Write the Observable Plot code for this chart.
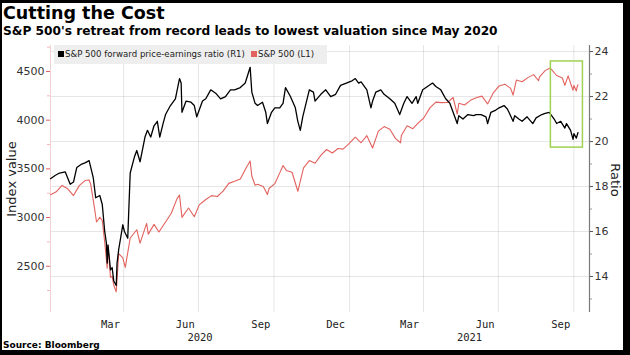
<!DOCTYPE html>
<html><head><meta charset="utf-8">
<script src="https://cdn.jsdelivr.net/npm/d3@7"></script>
<script src="https://cdn.jsdelivr.net/npm/@observablehq/plot@0.6"></script>
<style>
html,body{margin:0;padding:0;background:#000;width:630px;height:355px;overflow:hidden}
#card{position:absolute;left:2px;top:3px;width:621px;height:347px;background:#fff;overflow:hidden}
#title{position:absolute;left:1px;top:0px;font:bold 17.5px "DejaVu Sans";color:#000;white-space:nowrap}
#subtitle{position:absolute;left:1px;top:21px;font:bold 12.2px "DejaVu Sans";color:#000;white-space:nowrap}
#chart{position:absolute;left:0;top:39px}
#legend{position:absolute;left:52px;top:42px;width:273px;height:19px;background:#eeeeee;font:8.6px "DejaVu Sans";color:#222;white-space:nowrap;line-height:19px;padding-left:4px;box-sizing:border-box}
#legend .sw{display:inline-block;width:6px;height:6px;margin-right:1px;vertical-align:0px}
#ylab{position:absolute;left:9px;top:176px;font:13px "DejaVu Sans";color:#222;transform:translate(-50%,-50%) rotate(-90deg);white-space:nowrap}
#rlab{position:absolute;left:613px;top:177px;font:13px "DejaVu Sans";color:#222;transform:translate(-50%,-50%) rotate(90deg);white-space:nowrap}
#source{position:absolute;left:1px;top:337px;font:bold 9px "DejaVu Sans";color:#000;white-space:nowrap}
</style></head>
<body>
<div id="card">
<div id="title">Cutting the Cost</div>
<div id="subtitle">S&amp;P 500's retreat from record leads to lowest valuation since May 2020</div>
<div id="chart"></div>
<div id="legend"></div>
<div id="ylab">Index value</div>
<div id="rlab">Ratio</div>
<div id="source">Source: Bloomberg</div>
</div>
<script>
// ---- data ----
const seriesNames = ["S&P 500 forward price-earnings ratio (R1)", "S&P 500 (L1)"];
const seriesColors = ["#000000", "#e2625e"];

const peRatio = [
["2020-01-03",18.35],["2020-01-09",18.5],["2020-01-14",18.6],["2020-01-21",18.65],["2020-01-27",18.1],
["2020-01-31",18.2],["2020-02-04",18.85],["2020-02-10",19.0],["2020-02-14",19.05],["2020-02-19",19.15],
["2020-02-24",18.4],["2020-02-27",17.5],["2020-03-03",17.6],["2020-03-06",17.2],["2020-03-09",16.0],
["2020-03-11",15.5],["2020-03-12",14.6],["2020-03-13",15.4],["2020-03-16",14.3],["2020-03-18",14.4],
["2020-03-20",13.8],["2020-03-23",13.6],["2020-03-24",14.6],["2020-03-26",15.2],["2020-03-31",16.3],
["2020-04-02",16.0],["2020-04-06",15.7],["2020-04-09",18.6],["2020-04-14",19.3],["2020-04-17",19.6],
["2020-04-21",19.1],["2020-04-27",20.2],["2020-04-30",20.5],["2020-05-04",20.2],["2020-05-08",20.7],
["2020-05-12",20.9],["2020-05-15",20.2],["2020-05-19",20.8],["2020-05-22",21.2],["2020-05-28",21.6],
["2020-06-03",21.9],["2020-06-08",22.8],["2020-06-10",22.6],["2020-06-11",21.3],["2020-06-16",21.8],
["2020-06-22",21.75],["2020-06-26",21.6],["2020-06-29",21.1],["2020-07-06",21.8],["2020-07-10",21.9],
["2020-07-16",22.3],["2020-07-22",22.15],["2020-07-28",21.9],["2020-08-03",22.0],["2020-08-09",22.3],
["2020-08-14",22.3],["2020-08-21",22.4],["2020-08-27",22.6],["2020-09-02",23.3],["2020-09-04",22.2],
["2020-09-08",21.7],["2020-09-11",21.6],["2020-09-17",21.75],["2020-09-21",21.3],["2020-09-23",20.8],
["2020-09-28",21.3],["2020-10-02",21.5],["2020-10-08",21.5],["2020-10-12",21.7],["2020-10-15",22.4],
["2020-10-21",22.0],["2020-10-27",21.5],["2020-10-30",20.9],["2020-11-02",20.5],["2020-11-05",21.1],
["2020-11-09",21.7],["2020-11-13",22.3],["2020-11-18",22.2],["2020-11-20",21.8],["2020-11-27",22.1],
["2020-12-03",22.3],["2020-12-09",22.0],["2020-12-15",22.1],["2020-12-21",22.5],["2020-12-28",22.6],
["2021-01-04",22.7],["2021-01-08",22.8],["2021-01-12",22.6],["2021-01-15",22.65],["2021-01-22",22.3],
["2021-01-27",21.5],["2021-01-29",21.8],["2021-02-02",22.2],["2021-02-08",22.3],["2021-02-12",22.1],
["2021-02-19",21.9],["2021-02-25",21.7],["2021-03-03",21.2],["2021-03-08",21.7],["2021-03-12",22.0],
["2021-03-18",21.7],["2021-03-23",22.0],["2021-03-25",21.7],["2021-03-31",22.3],["2021-04-08",22.5],
["2021-04-12",22.6],["2021-04-16",22.45],["2021-04-22",22.3],["2021-04-28",21.9],["2021-05-03",21.7],
["2021-05-07",21.3],["2021-05-12",20.8],["2021-05-14",21.15],["2021-05-19",21.0],["2021-05-25",21.2],
["2021-06-01",21.15],["2021-06-04",21.2],["2021-06-10",21.2],["2021-06-16",21.1],["2021-06-18",20.8],
["2021-06-22",21.3],["2021-06-28",21.4],["2021-07-02",21.5],["2021-07-08",21.6],["2021-07-12",21.45],
["2021-07-14",21.3],["2021-07-19",20.9],["2021-07-21",21.15],["2021-07-26",21.0],["2021-07-30",20.9],
["2021-08-05",21.1],["2021-08-12",20.8],["2021-08-16",21.05],["2021-08-23",21.2],["2021-08-27",21.25],
["2021-09-01",21.3],["2021-09-03",21.2],["2021-09-07",21.0],["2021-09-10",20.8],["2021-09-15",20.9],
["2021-09-20",20.6],["2021-09-22",20.8],["2021-09-27",20.5],["2021-09-30",20.1],["2021-10-01",20.35],
["2021-10-04",20.15],["2021-10-06",20.4]
];

const spx = [
["2020-01-03",3235],["2020-01-10",3265],["2020-01-17",3330],["2020-01-24",3295],["2020-01-31",3226],
["2020-02-07",3328],["2020-02-14",3380],["2020-02-19",3386],["2020-02-21",3338],["2020-02-25",3128],
["2020-02-28",2954],["2020-03-03",3003],["2020-03-06",2972],["2020-03-09",2747],["2020-03-12",2481],
["2020-03-13",2711],["2020-03-16",2386],["2020-03-18",2398],["2020-03-20",2305],["2020-03-23",2237],
["2020-03-26",2630],["2020-03-31",2585],["2020-04-03",2489],["2020-04-09",2790],["2020-04-17",2875],
["2020-04-21",2737],["2020-04-29",2940],["2020-05-01",2830],["2020-05-08",2930],["2020-05-14",2852],
["2020-05-22",2955],["2020-05-29",3044],["2020-06-05",3194],["2020-06-08",3232],["2020-06-11",3002],
["2020-06-19",3098],["2020-06-26",3009],["2020-07-02",3130],["2020-07-10",3185],["2020-07-17",3225],
["2020-07-24",3216],["2020-07-31",3271],["2020-08-07",3351],["2020-08-14",3373],["2020-08-21",3397],
["2020-08-28",3508],["2020-09-02",3580],["2020-09-04",3427],["2020-09-08",3332],["2020-09-11",3341],
["2020-09-18",3319],["2020-09-23",3237],["2020-09-25",3298],["2020-10-02",3348],["2020-10-09",3477],
["2020-10-12",3534],["2020-10-16",3484],["2020-10-23",3465],["2020-10-30",3270],["2020-11-06",3510],
["2020-11-13",3585],["2020-11-20",3558],["2020-11-27",3638],["2020-12-04",3699],["2020-12-11",3663],
["2020-12-18",3709],["2020-12-24",3703],["2020-12-31",3756],["2021-01-08",3825],["2021-01-15",3768],
["2021-01-22",3841],["2021-01-29",3714],["2021-02-05",3887],["2021-02-12",3934],["2021-02-19",3907],
["2021-02-26",3811],["2021-03-04",3768],["2021-03-05",3842],["2021-03-12",3943],["2021-03-19",3913],
["2021-03-26",3975],["2021-04-01",4020],["2021-04-09",4129],["2021-04-16",4185],["2021-04-23",4180],
["2021-04-30",4181],["2021-05-07",4233],["2021-05-12",4063],["2021-05-14",4174],["2021-05-21",4156],
["2021-05-28",4204],["2021-06-04",4230],["2021-06-11",4247],["2021-06-18",4167],["2021-06-25",4281],
["2021-07-02",4352],["2021-07-09",4370],["2021-07-16",4327],["2021-07-19",4258],["2021-07-23",4412],
["2021-07-30",4395],["2021-08-06",4437],["2021-08-13",4468],["2021-08-19",4405],["2021-08-20",4442],
["2021-08-27",4509],["2021-09-02",4537],["2021-09-10",4459],["2021-09-17",4433],["2021-09-20",4358],
["2021-09-24",4455],["2021-09-28",4353],["2021-09-30",4308],["2021-10-01",4357],["2021-10-04",4300],
["2021-10-05",4345],["2021-10-06",4363]
];

const xDomain = ["2020-01-03", "2021-10-20"];
const leftDomain = [2025, 4767];      // index value (L1)
const rightDomain = [12.4, 24.27];    // ratio (R1)
const leftTicks = [2500, 3000, 3500, 4000, 4500];
const leftMinorTicks = [2250, 2750, 3250, 3750, 4250, 4750];
const rightTicks = [14, 16, 18, 20, 22, 24];
const rightMinorTicks = [13, 15, 17, 19, 21, 23];
const gridDates = ["2020-04-01","2020-07-01","2020-10-01","2021-01-01","2021-04-01","2021-07-01","2021-10-01"];
const monthLabelDates = ["2020-03-16","2020-06-15","2020-09-15","2020-12-15","2021-03-15","2021-06-15","2021-09-15"];
const highlightBox = [{x1: "2021-09-03", x2: "2021-10-12", y1: 19.73, y2: 23.56}];

// ---- build ----
const P = d => new Date(d + "T00:00:00Z");
const toRatio = v => rightDomain[0] + (v - leftDomain[0]) * (rightDomain[1] - rightDomain[0]) / (leftDomain[1] - leftDomain[0]);
const fromRatio = r => leftDomain[0] + (r - rightDomain[0]) * (leftDomain[1] - leftDomain[0]) / (rightDomain[1] - rightDomain[0]);

const peData = peRatio.map(([d, v]) => ({date: P(d), v}));
const spxData = spx.map(([d, v]) => ({date: P(d), v}));
const xd = xDomain.map(P);
const yearCenters = [2020, 2021].map(y => {
  const a = Math.max(+xd[0], Date.UTC(y, 0, 1));
  const b = Math.min(+xd[1], Date.UTC(y + 1, 0, 1));
  return new Date((a + b) / 2);
});

const chart = Plot.plot({
  width: 621, height: 300,
  marginLeft: 48, marginRight: 34, marginTop: 3, marginBottom: 30,
  style: {fontFamily: "DejaVu Sans", fontSize: "11px", background: "transparent", color: "#222"},
  x: {type: "utc", domain: xd},
  y: {domain: rightDomain},
  marks: [
    Plot.gridY(rightTicks, {stroke: "#000", strokeOpacity: 0.1}),
    Plot.gridX(gridDates.map(P), {stroke: "#000", strokeOpacity: 0.1}),
    Plot.ruleX([xd[0]], {stroke: "#f4d2d2"}),
    Plot.ruleX([xd[1]], {stroke: "#7a7a7a", strokeWidth: 1.2}),
    Plot.axisY(leftTicks.map(toRatio), {anchor: "left", tickSize: 4, tickPadding: 2, stroke: "#e2625e", fill: "#333", tickFormat: r => String(Math.round(fromRatio(r))), label: null}),
    Plot.axisY(leftMinorTicks.map(toRatio), {anchor: "left", tickSize: 3, stroke: "#f2b8b6", tickFormat: () => "", label: null}),
    Plot.axisY(rightTicks, {anchor: "right", tickSize: 3, tickPadding: 2, stroke: "#555", fill: "#333", label: null}),
    Plot.axisY(rightMinorTicks, {anchor: "right", tickSize: 2, stroke: "#999", tickFormat: () => "", label: null}),
    Plot.axisX(monthLabelDates.map(P), {tickSize: 0, tickPadding: 8, tickFormat: d3.utcFormat("%b"), fontFamily: "DejaVu Sans Mono", fontSize: 10.5, fill: "#222", label: null}),
    Plot.axisX(yearCenters, {tickSize: 0, tickPadding: 21, tickFormat: d => String(d.getUTCFullYear()), fontFamily: "DejaVu Sans Mono", fontSize: 10.5, fill: "#222", label: null}),
    Plot.line(spxData, {x: "date", y: d => toRatio(d.v), stroke: seriesColors[1], strokeWidth: 1.1}),
    Plot.line(peData, {x: "date", y: "v", stroke: seriesColors[0], strokeWidth: 1.3}),
    Plot.rect(highlightBox, {x1: d => P(d.x1), x2: d => P(d.x2), y1: "y1", y2: "y2", fill: "none", stroke: "#9fd154", strokeWidth: 1.5})
  ]
});
document.getElementById("chart").appendChild(chart);

const legend = document.getElementById("legend");
seriesNames.forEach((n, i) => {
  const s = document.createElement("span");
  s.style.marginRight = i === 0 ? "6px" : "0";
  s.innerHTML = `<span class="sw" style="background:${seriesColors[i]}"></span>`;
  s.appendChild(document.createTextNode(n));
  legend.appendChild(s);
});
</script>
</body></html>
